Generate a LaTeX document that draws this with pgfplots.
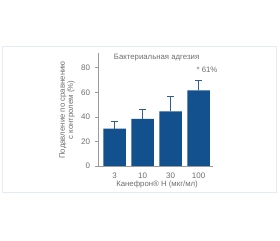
\documentclass[border=0pt]{standalone}
\usepackage{fontspec}
\setmainfont{Liberation Sans}
\usepackage{pgfplots}
\pgfplotsset{compat=1.18}
\definecolor{barblue}{HTML}{12508E}
\definecolor{txtgray}{HTML}{6E6E6E}
\definecolor{axgray}{HTML}{9A9A9A}
\definecolor{framec}{HTML}{E3ECF2}
\begin{document}
\begin{tikzpicture}
\path[use as bounding box] (0,0) rectangle (280pt,240pt);
\draw[framec, line width=0.7pt] (2pt,194pt) rectangle (276pt,48pt);
\begin{axis}[
  at={(98pt,74pt)}, anchor=south west,
  scale only axis, width=114.6pt, height=113pt,
  xmin=-0.59, xmax=3.5, ymin=0, ymax=92,
  axis x line=bottom, axis y line=left,
  axis line style={axgray, line width=0.6pt, -},
  ytick={0,20,40,60,80},
  xtick={0,1,2,3}, xticklabels={3,10,30,100},
  minor xtick={0.5,1.5,2.5,3.5},
  tick align=outside,
  major tick length=3.5pt, minor tick length=4pt,
  xtick style={draw=none},
  minor x tick style={axgray, line width=0.6pt},
  ytick style={axgray, line width=0.6pt},
  tick label style={font=\fontsize{8}{9}\selectfont, text=txtgray},
  /pgf/number format/assume math mode=true,
  yticklabel style={xshift=-1pt},
  xticklabel style={yshift=0.5pt},
  clip=false,
]
\addplot[ybar, bar width=22.5pt, fill=barblue, draw=none,
  error bars/.cd, y dir=plus, y explicit,
  error bar style={color=barblue!70!gray, line width=0.7pt},
  error mark options={rotate=90, mark size=3.6pt, barblue!70!gray, line width=0.7pt}]
  coordinates {
  (0,30.5) +- (0,6)
  (1,38.3) +- (0,7.5)
  (2,44.5) +- (0,12)
  (3,61.5) +- (0,8.5)
  };
\node[font=\fontsize{7.8}{9}\selectfont, text=txtgray] at (axis cs:1.5,88.5) {Бактериальная адгезия};
\node[font=\fontsize{7.8}{9}\selectfont, text=txtgray] at (axis cs:3.3,78) {* 61\%};
\node[font=\fontsize{7.8}{9}\selectfont, text=txtgray] at (axis description cs:0.515,-0.165) {Канефрон® Н (мкг/мл)};
\node[font=\fontsize{7.8}{8.3}\selectfont, text=txtgray, rotate=90, align=center] at (axis description cs:-0.27,0.495) {Подавление по сравнению\\с контролем (\%)};
\end{axis}
\end{tikzpicture}
\end{document}
